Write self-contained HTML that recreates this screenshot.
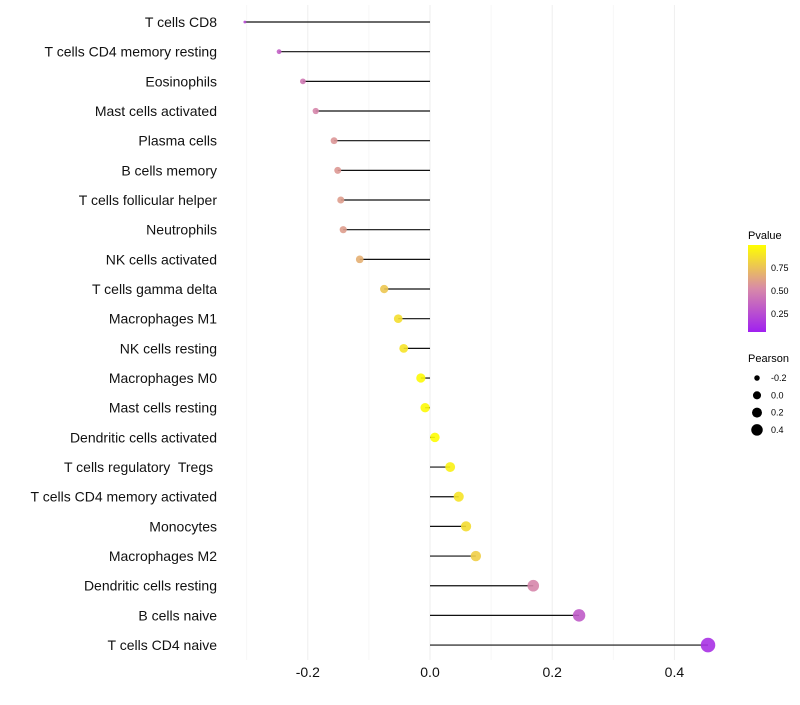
<!DOCTYPE html>
<html><head><meta charset="utf-8"><style>
body{margin:0;background:#fff;font-family:"Liberation Sans",sans-serif;}
svg text{font-family:"Liberation Sans",sans-serif;white-space:pre;}
</style></head><body>
<svg id="chart" width="800" height="700">
<defs><linearGradient id="pg" x1="0" y1="1" x2="0" y2="0">
<stop offset="0" stop-color="#a020f0"/><stop offset="0.5" stop-color="#d88aa8"/><stop offset="1" stop-color="#ffff00"/>
</linearGradient></defs>
<g id="grid"></g><g id="marks"></g><g id="labels"></g>
<g id="legend">
<text x="748" y="239" font-size="11">Pvalue</text>
<rect x="748" y="245" width="18" height="87" fill="url(#pg)"/>
<text x="771" y="271" font-size="9">0.75</text>
<text x="771" y="294" font-size="9">0.50</text>
<text x="771" y="317" font-size="9">0.25</text>
<text x="748" y="362" font-size="11">Pearson</text>
<g id="sizeleg"></g>
</g>
</svg>
<script>
const categories=["T cells CD8","T cells CD4 memory resting","Eosinophils","Mast cells activated","Plasma cells","B cells memory","T cells follicular helper","Neutrophils","NK cells activated","T cells gamma delta","Macrophages M1","NK cells resting","Macrophages M0","Mast cells resting","Dendritic cells activated","T cells regulatory  Tregs ","T cells CD4 memory activated","Monocytes","Macrophages M2","Dendritic cells resting","B cells naive","T cells CD4 naive"];
const pearson=[-0.303,-0.247,-0.208,-0.187,-0.157,-0.151,-0.146,-0.142,-0.115,-0.075,-0.052,-0.043,-0.015,-0.008,0.008,0.033,0.047,0.059,0.075,0.169,0.244,0.455];
const pvalue=[0.2,0.3,0.42,0.48,0.55,0.56,0.58,0.58,0.66,0.76,0.86,0.88,0.98,0.98,0.99,0.94,0.88,0.85,0.79,0.48,0.28,0.08];
const xTicks=[-0.2,0,0.2,0.4];
const xMinor=[-0.3,-0.1,0.1,0.3];
const sizeLegend=[-0.2,0,0.2,0.4];
const NS="http://www.w3.org/2000/svg";
const x=v=>430+v*611;
const y=i=>22+i*29.67;
const r=v=>Math.sqrt(Math.max(1,22.3+66.8*v));
function col(p){
  const a=[160,32,240],m=[216,138,168],b=[255,255,0];
  let t,c0,c1; if(p<0.5){t=p/0.5;c0=a;c1=m;}else{t=(p-0.5)/0.5;c0=m;c1=b;}
  return "rgb("+c0.map((c,k)=>Math.round(c+(c1[k]-c)*t)).join(",")+")";
}
function mk(tag,at,parent){const e=document.createElementNS(NS,tag);for(const k in at)e.setAttribute(k,at[k]);document.getElementById(parent).appendChild(e);return e;}
xMinor.forEach(v=>{const l=mk("line",{x1:x(v),x2:x(v),y1:5,y2:660,stroke:"#f5f5f5","stroke-width":0.8},"grid");

});
xTicks.forEach(v=>{const l=mk("line",{x1:x(v),x2:x(v),y1:5,y2:660,stroke:"#eeeeee","stroke-width":1},"grid");


const t=mk("text",{x:x(v),y:677,"font-size":14,"text-anchor":"middle",fill:"#111"},"labels");t.textContent=v===0?"0.0":v.toFixed(1);

});
categories.forEach((c,i)=>{
  const t=mk("text",{x:217,y:y(i)+5,"font-size":14,"text-anchor":"end",fill:"#111"},"labels");t.textContent=c;
  
  
  const l=mk("line",{x1:x(0),x2:x(pearson[i]),y1:y(i),y2:y(i),stroke:"#111","stroke-width":1.2},"marks");
  
  
  const p=mk("circle",{cx:x(pearson[i]),cy:y(i),r:r(pearson[i]),fill:col(pvalue[i]),"fill-opacity":0.9},"marks");
  
  
});
sizeLegend.forEach((v,k)=>{const cy=378+k*17.3;
  const c=mk("circle",{cx:757,cy:cy,r:r(v)*0.75+0.5,fill:"#000"},"sizeleg");
  
  
  const t=mk("text",{x:771,y:cy+3,"font-size":9},"sizeleg");t.textContent=v===0?"0.0":String(v);
  
  
});
</script>
</body></html>
